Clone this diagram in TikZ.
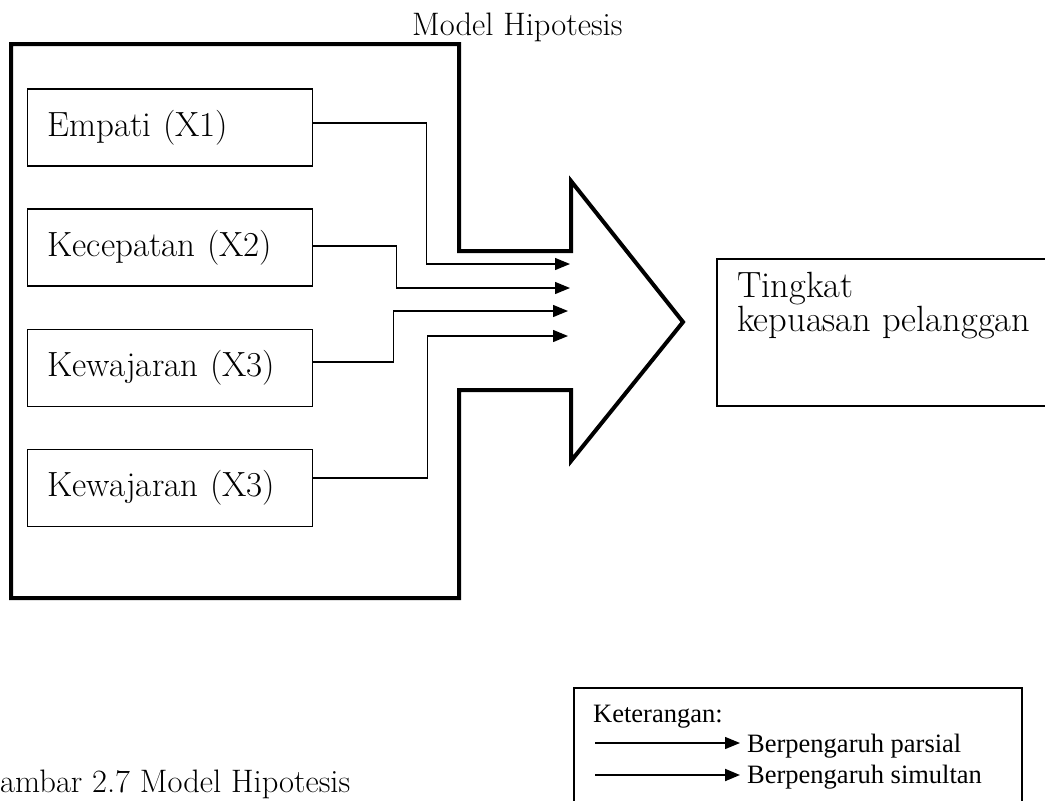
\documentclass[tikz,border=0pt]{standalone}
\usepackage{fontspec}
\usetikzlibrary{arrows.meta}
\newfontfamily\timesf{Liberation Serif}
\newcommand\palf{\rmfamily}
\begin{document}
\begin{tikzpicture}[x=1pt,y=-1pt,
  factor/.style={draw, line width=1.6pt, minimum height=77pt, text width=245pt,
    inner xsep=20pt, inner ysep=0pt, align=left,
    font=\palf\fontsize{35}{37}\selectfont},
  link/.style={line width=1.3pt, -{Triangle[length=15pt,width=12pt]}},
  simlink/.style={line width=2pt, -{Triangle[length=15pt,width=12pt]}},
  paltext/.style={inner sep=0pt, font=\palf\fontsize{32.5}{34}\selectfont},
  bigtext/.style={inner sep=0pt, align=left, font=\palf\fontsize{36.5}{32}\selectfont},
  legtext/.style={inner sep=0pt, font=\timesf\fontsize{26.5}{29}\selectfont},
  frame/.style={draw, line width=1.6pt, inner sep=0pt}
]
\useasboundingbox (0,0) rectangle (1045,801);
\clip (0,0) rectangle (1045,801);

% title
\node[paltext, anchor=base west] (title) at (412,35) {Model Hipotesis};

% big block arrow
\draw[line width=4pt, line join=miter]
  (11,44) -- (459,44) -- (459,251) -- (571,251) -- (571,181) -- (683,322)
  -- (571,461) -- (571,390) -- (459,390) -- (459,598) -- (11,598) -- cycle;

% factor boxes
\node[factor] (b1) at (170,127.5) {Empati (X1)};
\node[factor] (b2) at (170,247.5) {Kecepatan (X2)};
\node[factor] (b3) at (170,368) {Kewajaran (X3)};
\node[factor] (b4) at (170,488) {Kewajaran (X3)};

% arrow end points
\coordinate (e1) at (570,264);
\coordinate (e2) at (570,288);
\coordinate (e3) at (568,311);
\coordinate (e4) at (568,336);

\draw[link] ([yshift=4.5pt]b1.east) -- ++(113,0) |- (e1);
\draw[link] ([yshift=1.5pt]b2.east) -- ++(83,0) |- (e2);
\draw[link] ([yshift=6pt]b3.east) -- ++(80,0) |- (e3);
\draw[link] ([yshift=10pt]b4.east) -- ++(114,0) |- (e4);

% target box
\node[frame, anchor=north west, minimum width=340pt, minimum height=147pt] (tgt) at (716,258) {};
\node[bigtext, anchor=north west] (tgttext) at (737,272) {Tingkat\\kepuasan pelanggan};

% legend
\node[frame, anchor=north west, minimum width=448pt, minimum height=140pt] (leg) at (573,687) {};
\node[legtext, anchor=base west] (legtitle) at (593,722) {Keterangan:};
\coordinate (la) at (595,743);
\coordinate (lb) at (740,743);
\coordinate (lc) at (595,775);
\coordinate (ld) at (740,775);
\draw[link] (la) -- (lb);
\draw[simlink] (lc) -- (ld);
\node[legtext, anchor=base west] (leg1) at (747,752) {Berpengaruh parsial};
\node[legtext, anchor=base west] (leg2) at (747,783) {Berpengaruh simultan};

% caption
\node[paltext, anchor=base west] (caption) at (0,792) {ambar 2.7 Model Hipotesis};
\end{tikzpicture}
\end{document}
